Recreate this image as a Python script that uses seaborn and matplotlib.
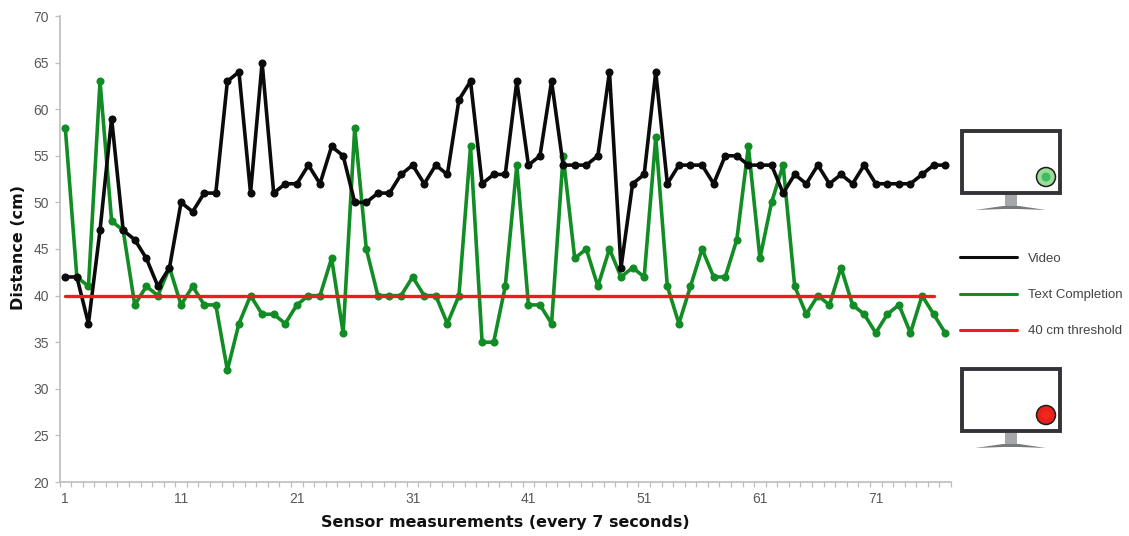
#!/usr/bin/env python3

import numpy as np
import pandas
import seaborn as sns
import matplotlib.pyplot as plt
from matplotlib.patches import Circle, Polygon, Rectangle

video = [42, 42, 37, 47, 59, 47, 46, 44, 41, 43, 50, 49, 51, 51, 63, 64, 51, 65, 51, 52,
         52, 54, 52, 56, 55, 50, 50, 51, 51, 53, 54, 52, 54, 53, 61, 63, 52, 53, 53, 63,
         54, 55, 63, 54, 54, 54, 55, 64, 43, 52, 53, 64, 52, 54, 54, 54, 52, 55, 55, 54,
         54, 54, 51, 53, 52, 54, 52, 53, 52, 54, 52, 52, 52, 52, 53, 54, 54]
text_completion = [58, 42, 41, 63, 48, 47, 39, 41, 40, 43, 39, 41, 39, 39, 32, 37, 40, 38, 38, 37,
                   39, 40, 40, 44, 36, 58, 45, 40, 40, 40, 42, 40, 40, 37, 40, 56, 35, 35, 41, 54,
                   39, 39, 37, 55, 44, 45, 41, 45, 42, 43, 42, 57, 41, 37, 41, 45, 42, 42, 46, 56,
                   44, 50, 54, 41, 38, 40, 39, 43, 39, 38, 36, 38, 39, 36, 40, 38, 36]
threshold = 40
threshold_end = 76

x_ticks = [1, 11, 21, 31, 41, 51, 61, 71]
y_ticks = [20, 25, 30, 35, 40, 45, 50, 55, 60, 65, 70]

BLACK = "#0b0b0b"
GREEN = "#128c24"
RED = "#f01a22"
GREY_TEXT = "#595959"
GREY_AXIS = "#bdbdbd"
WIDTH, HEIGHT = 1129, 536


def draw_monitor(icon_ax, top, fill, core):
    """
    Draw one of the small screen icons, in pixel coordinates
    """
    icon_ax.add_patch(Polygon([[1005, top + 62], [1017, top + 62], [1017, top + 77], [1005, top + 77]],
                              facecolor="#a5a7aa", edgecolor="none"))
    icon_ax.add_patch(Polygon([[975, top + 81], [1003, top + 77], [1019, top + 77], [1046, top + 81],
                               [1019, top + 80], [1003, top + 80]],
                              facecolor="#77797c", edgecolor="none"))
    icon_ax.add_patch(Rectangle((961.5, top + 1.5), 98, 62, facecolor="white", edgecolor="#333338", linewidth=2.8))
    icon_ax.add_patch(Circle((1046, top + 48), 9.5, facecolor=fill, edgecolor="#1c1c1c", linewidth=1.1))
    icon_ax.add_patch(Circle((1046, top + 48), 4.5, facecolor=core, edgecolor="none"))


def main():
    sns.set_style("white")
    plt.rcParams["font.family"] = ["Liberation Sans", "DejaVu Sans"]

    measurement = np.arange(1, len(video) + 1)
    df = pandas.DataFrame({"measurement": measurement, "video": video, "text": text_completion})

    fig = plt.figure(figsize=(WIDTH / 100, HEIGHT / 100), dpi=100)
    ax = fig.add_axes([59.5 / WIDTH, 1 - 482 / HEIGHT, (951 - 59.5) / WIDTH, (482 - 16) / HEIGHT])

    sns.lineplot(data=df, x="measurement", y="text", color=GREEN, linewidth=2.6, marker="o",
                 markersize=5.8, markeredgewidth=0, ax=ax, zorder=3)
    sns.lineplot(data=df, x="measurement", y="video", color=BLACK, linewidth=2.6, marker="o",
                 markersize=5.8, markeredgewidth=0, ax=ax, zorder=4)
    sns.lineplot(x=[1, threshold_end], y=[threshold, threshold], color=RED, linewidth=2.4, ax=ax, zorder=5)

    ax.set_xlim(0.5, 77.5)
    ax.set_ylim(20, 70)
    ax.set_xticks(x_ticks)
    ax.set_xticks(np.arange(0.5, 78, 1), minor=True)
    ax.set_yticks(y_ticks)
    ax.tick_params(axis="x", which="major", length=0, pad=7, labelsize=10, labelcolor=GREY_TEXT)
    ax.tick_params(axis="x", which="minor", bottom=True, length=3.5, width=0.9, color=GREY_AXIS)
    ax.tick_params(axis="y", left=True, length=3.5, width=0.9, color=GREY_AXIS, pad=4,
                   labelsize=10, labelcolor=GREY_TEXT)

    sns.despine(ax=ax)
    for side in ["left", "bottom"]:
        ax.spines[side].set_color(GREY_AXIS)
        ax.spines[side].set_linewidth(1.2)

    ax.set_xlabel("")
    ax.set_ylabel("")
    fig.text(505 / WIDTH, 1 - 522 / HEIGHT, "Sensor measurements (every 7 seconds)", family="DejaVu Sans",
             fontweight="bold", fontsize=11.5, color="#111111", ha="center", va="center")
    fig.text(19 / WIDTH, 1 - 247 / HEIGHT, "Distance (cm)", family="DejaVu Sans", fontweight="bold",
             fontsize=11.5, color="#111111", rotation=90, ha="center", va="center")

    # Icons and legend sit in their own full figure layer, in pixels
    icon_ax = fig.add_axes([0, 0, 1, 1], zorder=10)
    icon_ax.set_xlim(0, WIDTH)
    icon_ax.set_ylim(HEIGHT, 0)
    icon_ax.axis("off")
    draw_monitor(icon_ax, 129, "#9bdc96", "#3fbd66")
    draw_monitor(icon_ax, 367, "#e8201c", "#f0281e")

    handles = [plt.Line2D([], [], color=BLACK, linewidth=2.2),
               plt.Line2D([], [], color=GREEN, linewidth=2.2),
               plt.Line2D([], [], color=RED, linewidth=2.2)]
    fig.legend(handles, ["Video", "Text Completion", "40 cm threshold"], frameon=False, loc="center left",
               bbox_to_anchor=(960 / WIDTH, 1 - 295 / HEIGHT), fontsize=9.5, labelcolor="#444444",
               handlelength=4.3, handletextpad=0.83, labelspacing=1.83, borderpad=0, borderaxespad=0)

    fig.savefig("out.png", dpi=100)


if __name__ == "__main__":
    main()
